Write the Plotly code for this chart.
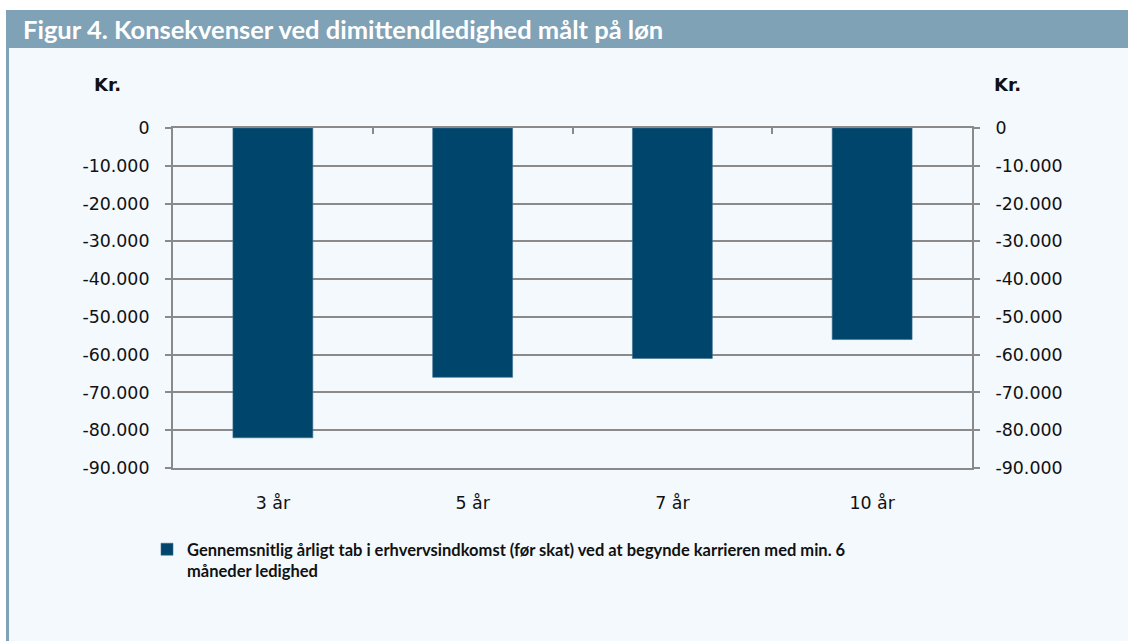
import plotly.graph_objects as go

# ---- data ----
categories = ["3 år", "5 år", "7 år", "10 år"]
values = [-82000, -66000, -61000, -56000]
y_tickvals = [0, -10000, -20000, -30000, -40000, -50000, -60000, -70000, -80000, -90000]
y_ticktext = ["0", "-10.000", "-20.000", "-30.000", "-40.000", "-50.000",
              "-60.000", "-70.000", "-80.000", "-90.000"]
series_name = ("Gennemsnitlig årligt tab i erhvervsindkomst (før skat) ved at begynde karrieren med min. 6"
               "<br>måneder ledighed")
title_text = "Figur 4. Konsekvenser ved dimittendledighed målt på løn"

W, H = 1128, 641
L, R, T, B = 173, 972, 128, 468  # plot area in pixels

def px(x):
    return (x - L) / (R - L)

def py(y):
    return (B - y) / (B - T)

pos = list(range(len(categories)))
bounds = [i + 0.5 for i in pos[:-1]]

BAR = "#00456B"
GRID = "#8A8A8A"
BG = "#F4F9FD"
HEAD = "#7FA2B7"
TICKFONT = dict(family="DejaVu Sans", size=17.4, color="#111111")

fig = go.Figure()
fig.add_trace(go.Bar(
    x=pos, y=values, name="<b>" + series_name + "</b>",
    marker=dict(color=BAR, line=dict(color="#3E6E8E", width=0.6)),
    width=0.4, showlegend=True,
))
# invisible helper trace so the top/right axes are drawn
fig.add_trace(go.Scatter(
    x=pos, y=values, xaxis="x2", yaxis="y2", mode="markers",
    marker=dict(opacity=0), showlegend=False, hoverinfo="skip",
))

fig.update_layout(
    width=W, height=H, autosize=False,
    margin=dict(l=L, r=W - R, t=T, b=H - B, pad=0),
    paper_bgcolor=BG, plot_bgcolor=BG,
    xaxis=dict(
        range=[-0.5, len(categories) - 0.5], tickvals=pos, ticktext=categories,
        showline=True, linecolor=GRID, linewidth=1.6,
        showgrid=False, zeroline=False, ticks="",
        tickfont=TICKFONT, ticklabelstandoff=18,
    ),
    xaxis2=dict(
        overlaying="x", side="top", anchor="y2",
        range=[-0.5, len(categories) - 0.5], tickvals=bounds,
        showticklabels=False, showline=True, linecolor=GRID, linewidth=2,
        ticks="inside", ticklen=6, tickwidth=2, tickcolor=GRID,
        showgrid=False, zeroline=False,
    ),
    yaxis=dict(
        range=[-90000, 0], tickvals=y_tickvals, ticktext=y_ticktext,
        showline=True, linecolor=GRID, linewidth=2,
        ticks="outside", ticklen=6, tickwidth=2, tickcolor=GRID,
        showgrid=True, gridcolor=GRID, gridwidth=1.6, zeroline=False,
        tickfont=TICKFONT, ticklabelstandoff=12,
    ),
    yaxis2=dict(
        overlaying="y", side="right", anchor="x",
        range=[-90000, 0], tickvals=y_tickvals, ticktext=y_ticktext,
        showline=True, linecolor=GRID, linewidth=2,
        ticks="outside", ticklen=6, tickwidth=2, tickcolor=GRID,
        showgrid=False, zeroline=False,
        tickfont=TICKFONT, ticklabelstandoff=12,
    ),
    legend=dict(
        x=px(147), y=py(532), xanchor="left", yanchor="top",
        bgcolor="rgba(0,0,0,0)", borderwidth=0, valign="top",
        font=dict(family="Lato", size=16.5, color="#111111"),
        itemclick=False,
    ),
    showlegend=True,
    shapes=[
        # white margins
        dict(type="rect", xref="paper", yref="paper", x0=px(0), x1=px(W), y0=py(10), y1=py(0),
             fillcolor="white", line=dict(width=0), layer="below"),
        dict(type="rect", xref="paper", yref="paper", x0=px(0), x1=px(6), y0=py(H), y1=py(0),
             fillcolor="white", line=dict(width=0), layer="below"),
        # title bar
        dict(type="rect", xref="paper", yref="paper", x0=px(6), x1=px(W), y0=py(48), y1=py(10),
             fillcolor=HEAD, line=dict(width=0), layer="below"),
        # left border
        dict(type="rect", xref="paper", yref="paper", x0=px(6), x1=px(9), y0=py(H), y1=py(48),
             fillcolor=HEAD, line=dict(width=0), layer="below"),
    ],
    annotations=[
        dict(text="<b>" + title_text + "</b>", xref="paper", yref="paper",
             x=px(21), y=py(29), xanchor="left", yanchor="middle", showarrow=False,
             font=dict(family="Lato", size=25.5, color="white")),
        dict(text="<b>Kr.</b>", xref="paper", yref="paper",
             x=px(107), y=py(84), xanchor="center", yanchor="middle", showarrow=False,
             font=dict(family="DejaVu Sans", size=18, color="#111111")),
        dict(text="<b>Kr.</b>", xref="paper", yref="paper",
             x=px(1007), y=py(84), xanchor="center", yanchor="middle", showarrow=False,
             font=dict(family="DejaVu Sans", size=18, color="#111111")),
    ],
)

fig.write_html(
    "out.html",
    config={"displayModeBar": False},
    post_script="document.body.style.margin='0';document.body.style.overflow='hidden';",
)
